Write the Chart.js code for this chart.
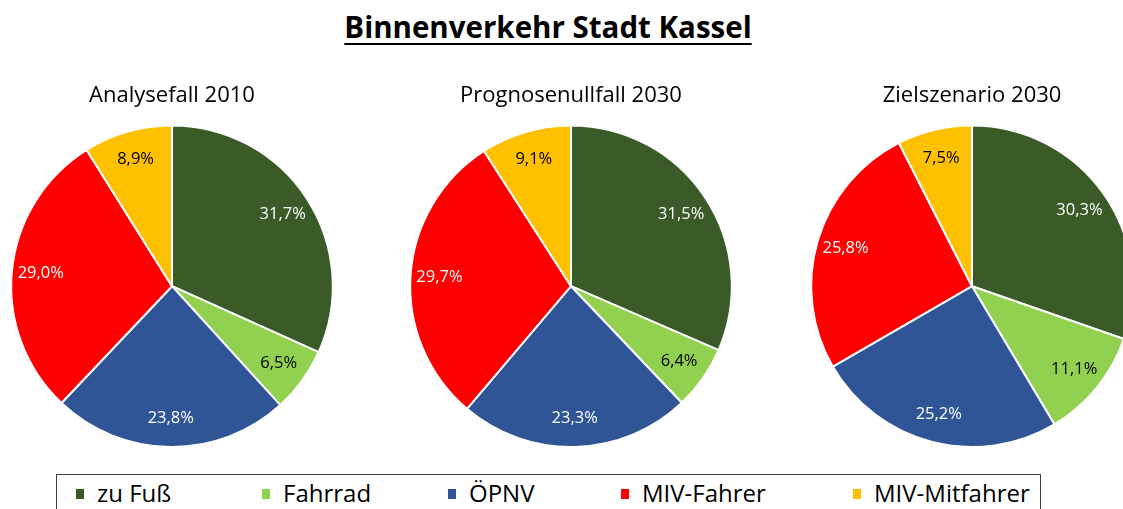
<!DOCTYPE html>
<html lang="de">
<head>
<meta charset="utf-8">
<title>Binnenverkehr Stadt Kassel</title>
<script src="https://cdn.jsdelivr.net/npm/chart.js@4/dist/chart.umd.min.js"></script>
<style>
    html, body {
        margin: 0;
        padding: 0;
        width: 1123px;
        height: 509px;
        overflow: hidden;
        background: #ffffff;
        font-family: "Open Sans", sans-serif;
    }
    #titel {
        position: absolute;
        left: 0;
        top: 9px;
        width: 1096px;
        text-align: center;
        font-size: 29.5px;
        line-height: 36px;
        font-weight: bold;
        color: #000000;
        text-decoration: underline;
        text-decoration-thickness: 2px;
        text-underline-offset: 5px;
    }
    .torte {
        position: absolute;
        top: 80px;
        width: 400px;
        height: 368px;
    }
    #legende {
        position: absolute;
        left: 56px;
        top: 474px;
        width: 985px;
        height: 60px;
        border: 1px solid #3f3f3f;
        box-sizing: border-box;
        font-size: 24px;
        line-height: 32px;
        color: #000000;
    }
    .eintrag {
        position: absolute;
        top: 2px;
        display: flex;
        align-items: center;
        white-space: nowrap;
    }
    .kaestchen {
        width: 8px;
        height: 10px;
        margin-right: 13px;
        margin-top: 2px;
    }
</style>
</head>
<body>
<div id="titel">Binnenverkehr Stadt Kassel</div>
<div class="torte" style="left: -28px;"><canvas id="pie1"></canvas></div>
<div class="torte" style="left: 371px;"><canvas id="pie2"></canvas></div>
<div class="torte" style="left: 772px;"><canvas id="pie3"></canvas></div>
<div id="legende"></div>

<script>
"use strict";

// Verkehrsmittel (Modal Split) und Anteile in Prozent
const modes = ["zu Fuß", "Fahrrad", "ÖPNV", "MIV-Fahrer", "MIV-Mitfahrer"];
const scenarios = ["Analysefall 2010", "Prognosenullfall 2030", "Zielszenario 2030"];
const analyse2010 = [31.7, 6.5, 23.8, 29.0, 8.9];
const prognose2030 = [31.5, 6.4, 23.3, 29.7, 9.1];
const ziel2030 = [30.3, 11.1, 25.2, 25.8, 7.5];

const modeColors = ["#3a5a27", "#92d050", "#2f5597", "#ff0000", "#ffc000"];
const labelColors = ["#ffffff", "#000000", "#ffffff", "#ffffff", "#000000"];
// linker Rand der Legendeneinträge innerhalb des Rahmens
const legendLeft = [19, 205, 391, 564, 796];

window.onload = () => {
    buildLegend();
    displayPie("pie1", scenarios[0], analyse2010);
    displayPie("pie2", scenarios[1], prognose2030);
    displayPie("pie3", scenarios[2], ziel2030);
}

/**
 * Plugin: schreibt die Prozentwerte (mit Komma) in die Tortenstücke
 */
const percentLabels = {
    id: "percentLabels",
    afterDatasetsDraw(chart) {
        const ctx = chart.ctx;
        const meta = chart.getDatasetMeta(0);
        const values = chart.data.datasets[0].data;
        ctx.save();
        ctx.font = "16.5px 'Open Sans'";
        ctx.textAlign = "center";
        ctx.textBaseline = "middle";
        meta.data.forEach((arc, i) => {
            const p = arc.getProps(["x", "y", "startAngle", "endAngle", "outerRadius"], true);
            const mid = (p.startAngle + p.endAngle) / 2;
            const dist = p.outerRadius * 0.82;
            ctx.fillStyle = labelColors[i];
            ctx.fillText(values[i].toFixed(1).replace(".", ",") + "%",
                p.x + Math.cos(mid) * dist, p.y + Math.sin(mid) * dist);
        });
        ctx.restore();
    }
};

/**
 * zeichnet eine Torte für ein Szenario
 * @param id canvas-id
 * @param title Überschrift
 * @param data Anteile
 */
function displayPie(id, title, data) {
    const canvas = document.getElementById(id);
    new Chart(canvas, {
        type: "pie",
        data: {
            labels: modes,
            datasets: [{
                data: data,
                backgroundColor: modeColors,
                borderColor: "#ffffff",
                borderWidth: 2
            }]
        },
        options: {
            responsive: true,
            maintainAspectRatio: false,
            animation: false,
            layout: { padding: 0 },
            plugins: {
                legend: { display: false },
                tooltip: { enabled: false },
                title: {
                    display: true,
                    text: title,
                    color: "#000000",
                    font: { family: "'Open Sans'", size: 22, weight: "normal", lineHeight: 1.2 },
                    padding: { top: 3, bottom: 15 }
                }
            }
        },
        plugins: [percentLabels]
    });
}

// gemeinsame Legende unter den drei Torten
function buildLegend() {
    const legend = document.getElementById("legende");
    modes.forEach((mode, i) => {
        const item = document.createElement("div");
        item.className = "eintrag";
        item.style.left = legendLeft[i] + "px";
        const box = document.createElement("span");
        box.className = "kaestchen";
        box.style.background = modeColors[i];
        const text = document.createElement("span");
        text.textContent = mode;
        item.appendChild(box);
        item.appendChild(text);
        legend.appendChild(item);
    });
}
</script>
</body>
</html>
